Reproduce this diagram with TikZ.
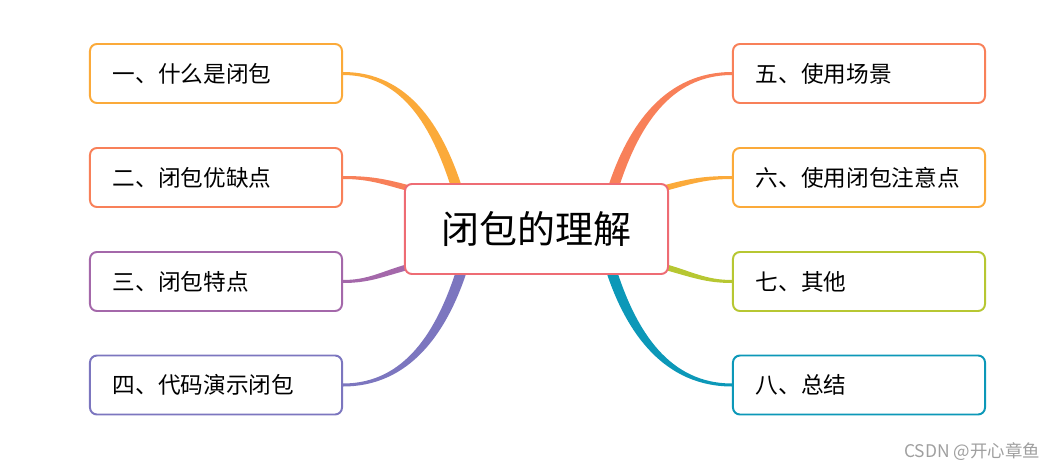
\documentclass[tikz,border=0pt]{standalone}
\usepackage{fontspec}
\setmainfont{Noto Sans CJK SC}
\usetikzlibrary{calc,backgrounds}

\definecolor{cOrange}{HTML}{FBAA3A}
\definecolor{cSalmon}{HTML}{F88059}
\definecolor{cPurple}{HTML}{A468AA}
\definecolor{cIndigo}{HTML}{7C76BF}
\definecolor{cLime}{HTML}{B7C732}
\definecolor{cTeal}{HTML}{0C98B8}
\definecolor{cRoot}{HTML}{EE6C74}

\begin{document}
\begin{tikzpicture}[x=0.025cm, y=0.025cm,
    topic/.style={draw=#1, line width=1.4pt, rounded corners=5pt, fill=white,
      text width=5.15cm, inner xsep=0.575cm, inner ysep=0pt, minimum height=1.475cm,
      align=left, font=\fontsize{16.1}{18}\selectfont},
    root/.style={draw=cRoot, line width=1.4pt, rounded corners=5pt, fill=white,
      minimum width=6.575cm, minimum height=2.25cm, font=\fontsize{27}{32}\selectfont},
    branch/.style={fill=#1, draw=none},
  ]
  \useasboundingbox (0,0) rectangle (1058,469);

  \node[root] (root) at (536.5,240) {闭包的理解};

  % left topics
  \node[topic=cOrange] (t1) at (216,395.5) {一、什么是闭包};
  \node[topic=cSalmon] (t2) at (216,291.5) {二、闭包优缺点};
  \node[topic=cPurple] (t3) at (216,187.5) {三、闭包特点};
  \node[topic=cIndigo] (t4) at (216,84)    {四、代码演示闭包};

  % right topics
  \node[topic=cSalmon] (t5) at (859,395.5) {五、使用场景};
  \node[topic=cOrange] (t6) at (859,291.5) {六、使用闭包注意点};
  \node[topic=cLime]   (t7) at (859,187.5) {七、其他};
  \node[topic=cTeal]   (t8) at (859,84)    {八、总结};

  % watermark
  \node[text=gray!75, font=\fontsize{12.4}{14}\selectfont, anchor=east] (mark) at (1045,17) {CSDN @开心章鱼};

  % tapered branches
  \begin{scope}[on background layer]
    \fill[branch=cOrange] ($(t1.east)+(0,1.5)$) to[out=0,in=108] ($(root.north west)+(58,-4)$)
      -- ($(root.north west)+(47,-4)$) to[out=108,in=0] ($(t1.east)+(0,-1.5)$) -- cycle;
    \fill[branch=cSalmon] ($(t2.east)+(0,1.5)$) to[out=0,in=165] ($(root.north west)+(4,-2)$)
      -- ($(root.north west)+(4,-8)$) to[out=165,in=0] ($(t2.east)+(0,-1.5)$) -- cycle;
    \fill[branch=cPurple] ($(t3.east)+(0,1.5)$) to[out=0,in=195] ($(root.south west)+(4,11)$)
      -- ($(root.south west)+(4,5)$) to[out=195,in=0] ($(t3.east)+(0,-1.5)$) -- cycle;
    \fill[branch=cIndigo] ($(t4.east)+(0,-1.5)$) to[out=0,in=252] ($(root.south west)+(63,4)$)
      -- ($(root.south west)+(52,4)$) to[out=252,in=0] ($(t4.east)+(0,1.5)$) -- cycle;

    \fill[branch=cSalmon] ($(t5.west)+(0,1.5)$) to[out=180,in=72] ($(root.north east)+(-61,-4)$)
      -- ($(root.north east)+(-50,-4)$) to[out=72,in=180] ($(t5.west)+(0,-1.5)$) -- cycle;
    \fill[branch=cOrange] ($(t6.west)+(0,1.5)$) to[out=180,in=15] ($(root.north east)+(-4,-2)$)
      -- ($(root.north east)+(-4,-8)$) to[out=15,in=180] ($(t6.west)+(0,-1.5)$) -- cycle;
    \fill[branch=cLime] ($(t7.west)+(0,1.5)$) to[out=180,in=-15] ($(root.south east)+(-4,11)$)
      -- ($(root.south east)+(-4,5)$) to[out=-15,in=180] ($(t7.west)+(0,-1.5)$) -- cycle;
    \fill[branch=cTeal] ($(t8.west)+(0,-1.5)$) to[out=180,in=288] ($(root.south east)+(-63,4)$)
      -- ($(root.south east)+(-52,4)$) to[out=288,in=180] ($(t8.west)+(0,1.5)$) -- cycle;
  \end{scope}
\end{tikzpicture}
\end{document}
